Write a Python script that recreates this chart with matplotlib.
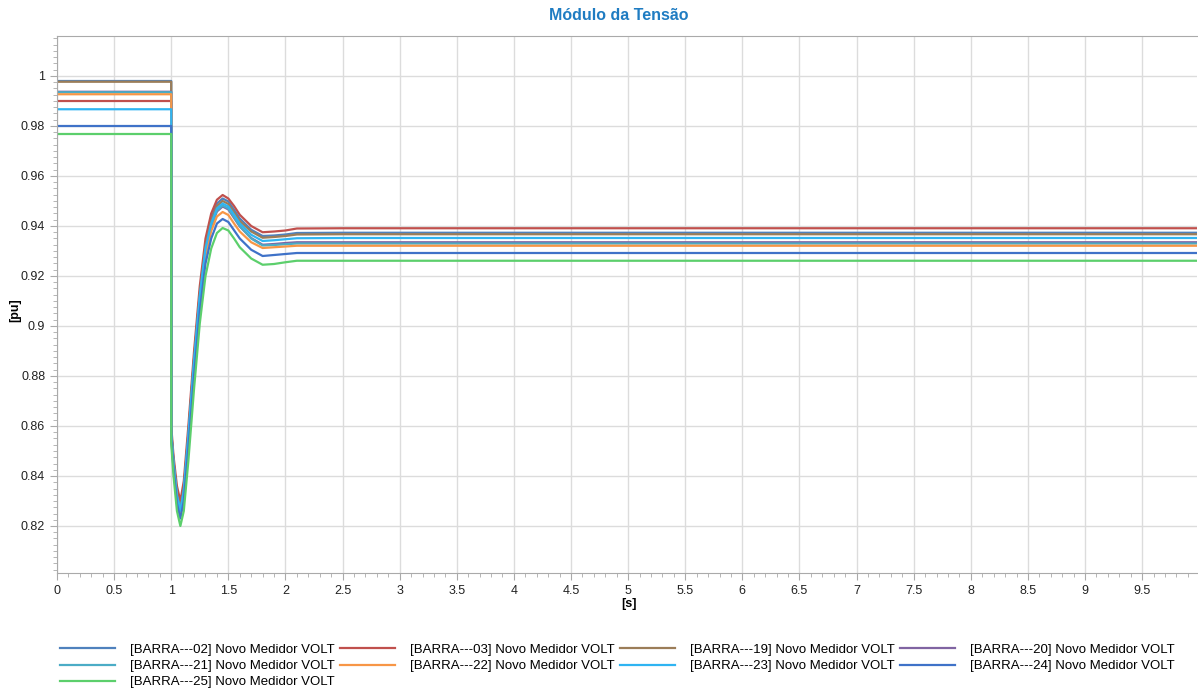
import matplotlib
matplotlib.use("Agg")
import matplotlib.pyplot as plt
from matplotlib.ticker import MultipleLocator, AutoMinorLocator, FuncFormatter

plt.rcParams['font.family'] = ['Liberation Sans', 'DejaVu Sans']

# tempo [s] (pontos comuns a todas as barras)
t = [0, 1.0, 1.0, 1.02, 1.05, 1.08, 1.11, 1.15, 1.2, 1.25, 1.3, 1.35, 1.4,
     1.45, 1.5, 1.55, 1.6, 1.7, 1.8, 1.9, 2.0, 2.1, 2.5, 9.98]

# modulo da tensao [pu] por barra
v02 = [0.998, 0.998, 0.858, 0.846, 0.833, 0.827, 0.835, 0.857, 0.887, 0.913, 0.932, 0.943,
       0.9490, 0.9510, 0.9498, 0.9465, 0.9430, 0.9385, 0.9360, 0.9362, 0.9366, 0.9372, 0.9373, 0.9373]
v03 = [0.990, 0.990, 0.860, 0.848, 0.836, 0.830, 0.838, 0.860, 0.890, 0.916, 0.935, 0.945,
       0.9505, 0.9524, 0.9510, 0.9480, 0.9445, 0.9400, 0.9375, 0.9378, 0.9382, 0.9390, 0.9391, 0.9391]
v19 = [0.9977, 0.9977, 0.858, 0.846, 0.833, 0.827, 0.835, 0.857, 0.887, 0.913, 0.932, 0.942,
       0.9480, 0.9500, 0.9488, 0.9455, 0.9420, 0.9378, 0.9353, 0.9356, 0.9360, 0.9366, 0.9367, 0.9367]
v20 = [0.9937, 0.9937, 0.857, 0.845, 0.832, 0.826, 0.834, 0.855, 0.885, 0.911, 0.930, 0.940,
       0.9458, 0.9478, 0.9466, 0.9432, 0.9398, 0.9352, 0.9325, 0.9328, 0.9332, 0.9335, 0.9335, 0.9335]
v21 = [0.9935, 0.9935, 0.857, 0.845, 0.832, 0.826, 0.834, 0.855, 0.885, 0.911, 0.930, 0.940,
       0.9462, 0.9482, 0.9470, 0.9436, 0.9400, 0.9350, 0.9322, 0.9324, 0.9327, 0.9330, 0.9330, 0.9330]
v22 = [0.9927, 0.9927, 0.856, 0.844, 0.831, 0.825, 0.832, 0.853, 0.883, 0.909, 0.928, 0.938,
       0.9438, 0.9456, 0.9444, 0.9410, 0.9378, 0.9335, 0.9312, 0.9315, 0.9318, 0.9321, 0.9321, 0.9321]
v23 = [0.9867, 0.9867, 0.857, 0.845, 0.832, 0.826, 0.834, 0.856, 0.886, 0.912, 0.931, 0.941,
       0.9470, 0.9490, 0.9478, 0.9445, 0.9410, 0.9365, 0.9340, 0.9343, 0.9347, 0.9351, 0.9352, 0.9352]
v24 = [0.980, 0.980, 0.855, 0.843, 0.829, 0.823, 0.830, 0.851, 0.880, 0.906, 0.925, 0.935,
       0.9410, 0.9428, 0.9416, 0.9383, 0.9350, 0.9305, 0.9280, 0.9284, 0.9288, 0.9292, 0.9292, 0.9292]
v25 = [0.9768, 0.9768, 0.853, 0.840, 0.826, 0.820, 0.826, 0.846, 0.875, 0.901, 0.920, 0.931,
       0.9372, 0.9392, 0.9382, 0.9350, 0.9315, 0.9270, 0.9245, 0.9248, 0.9255, 0.9261, 0.9261, 0.9261]

barras = ['02', '03', '19', '20', '21', '22', '23', '24', '25']
series = [v02, v03, v19, v20, v21, v22, v23, v24, v25]
cores = ['#4f81bd', '#c0504d', '#9b7d58', '#8064a2', '#4bacc6',
         '#f79646', '#2fb4f2', '#3f72c8', '#5ccf6c']

fig = plt.figure(figsize=(11.98, 6.92), dpi=100)
ax = fig.add_axes([57/1198, 1-573/692, 1140/1198, 537/692])

linhas = {}
for b, v, c in zip(barras, series, cores):
    ln, = ax.plot(t, v, color=c, lw=1.6, label='[BARRA---%s] Novo Medidor VOLT' % b)
    linhas[b] = ln

ax.set_xlim(0, 9.98)
ax.set_ylim(0.8012, 1.016)

fmt = FuncFormatter(lambda x, p: '%g' % round(x, 4))
ax.xaxis.set_major_locator(MultipleLocator(0.5))
ax.xaxis.set_minor_locator(AutoMinorLocator(5))
ax.yaxis.set_major_locator(MultipleLocator(0.02))
ax.yaxis.set_minor_locator(AutoMinorLocator(8))
ax.xaxis.set_major_formatter(fmt)
ax.yaxis.set_major_formatter(fmt)

ax.grid(True, which='major', color='#dcdcdc', lw=1)
ax.set_axisbelow(True)
for s in ['left', 'bottom', 'top']:
    ax.spines[s].set_color('#aaaaaa')
ax.spines['right'].set_visible(False)
ax.tick_params(which='major', length=5, color='#aaaaaa', labelsize=9, labelcolor='#222222')
ax.tick_params(which='minor', length=3, color='#aaaaaa')

fig.text(619/1198, 1-16/692, 'Módulo da Tensão', ha='center', va='center',
         fontsize=11.5, fontweight='bold', color='#1f7cc2')
fig.text(629/1198, 1-604/692, '[s]', ha='center', va='center', fontsize=9, fontweight='bold')
fig.text(15/1198, 1-310/692, '[pu]', ha='center', va='center', rotation=90,
         fontsize=9, fontweight='bold')

# legenda preenchida por linhas (4 colunas)
ordem = ['02', '21', '25', '03', '22', '19', '23', '20', '24']
fig.legend([linhas[b] for b in ordem], [linhas[b].get_label() for b in ordem],
           loc='upper center', bbox_to_anchor=(617/1198, 1-632/692), ncol=4,
           frameon=False, fontsize=9.5, handlelength=4.2, handletextpad=1.1,
           columnspacing=0.4, labelspacing=0.3)

fig.savefig('out.png', dpi=100)
